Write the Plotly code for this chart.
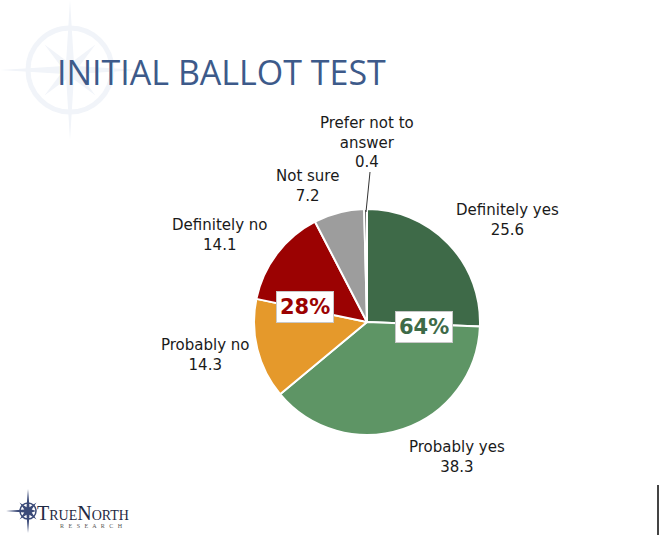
import math
import plotly.graph_objects as go

categories = ["Definitely yes", "Probably yes", "Probably no", "Definitely no", "Not sure", "Prefer not to answer"]
values = [25.6, 38.3, 14.3, 14.1, 7.2, 0.4]
colors = ["#3e6a48", "#5e9565", "#e5992b", "#9b0202", "#9d9d9d", "#3a3a3a"]
label_texts = ["Definitely yes<br>25.6", "Probably yes<br>38.3", "Probably no<br>14.3",
               "Definitely no<br>14.1", "Not sure<br>7.2", "Prefer not to<br>answer<br>0.4"]
group_labels = ["64%", "28%"]
group_colors = ["#3e6a48", "#9b0202"]

W, H = 660, 535
cx, cy, r = 367, 322, 113

fig = go.Figure(go.Pie(
    labels=categories, values=values, sort=False, direction="clockwise", rotation=0,
    marker=dict(colors=colors, line=dict(color="white", width=2)),
    textinfo="none", hoverinfo="label+value", showlegend=False,
    domain=dict(x=[(cx - r) / W, (cx + r) / W], y=[(H - cy - r) / H, (H - cy + r) / H]),
))

def px(x, y):
    return x / W, 1 - y / H

label_pos = [(507, 220), (457, 457), (205, 355), (220, 235), (307, 186), (367, 142)]
anns = []
for t, (x, y) in zip(label_texts, label_pos):
    ax_, ay_ = px(x, y)
    anns.append(dict(x=ax_, y=ay_, xref="paper", yref="paper", xanchor="center", yanchor="middle",
                     text=t, showarrow=False,
                     font=dict(family="DejaVu Sans", size=15, color="#1a1a1a"), align="center"))

box_pos = [(424, 327), (305, 307)]
for t, c, (x, y) in zip(group_labels, group_colors, box_pos):
    ax_, ay_ = px(x, y)
    anns.append(dict(x=ax_, y=ay_, xref="paper", yref="paper", xanchor="center", yanchor="middle",
                     text="<b>%s</b>" % t, showarrow=False,
                     font=dict(family="DejaVu Sans", size=21, color=c), bgcolor="white",
                     bordercolor="#c8c8c8", borderwidth=1, borderpad=3))

# title
anns.append(dict(x=55 / W, y=1 - 72 / H, xref="paper", yref="paper", xanchor="left", yanchor="middle",
                 text="INITIAL BALLOT TEST",
                 showarrow=False, font=dict(family="Open Sans", size=34, color="#3d5a8a")))
# logo text
anns.append(dict(x=35 / W, y=1 - 513 / H, xref="paper", yref="paper", xanchor="left", yanchor="middle",
                 text="T<span style='font-size:14px'>RUE</span>N<span style='font-size:14px'>ORTH</span>",
                 showarrow=False, font=dict(family="Liberation Serif", size=20, color="#1f2a44")))
anns.append(dict(x=58 / W, y=1 - 526 / H, xref="paper", yref="paper", xanchor="left", yanchor="middle",
                 text="R   E   S   E   A   R   C   H", showarrow=False,
                 font=dict(family="Liberation Serif", size=6, color="#555555")))

def star_path(x0, y0, long_, diag, w, right=None):
    pts = []
    for k in range(16):
        ang = math.pi / 2 - k * math.pi / 8
        if k % 4 == 0:
            rr = long_ if (right is None or k != 4) else right
        elif k % 4 == 2:
            rr = diag
        else:
            rr = w
        pts.append((x0 + rr * math.cos(ang), y0 - rr * math.sin(ang)))
    return "M " + " L ".join("%.1f,%.1f" % (p[0], p[1]) for p in pts) + " Z"

shapes = []
# faint compass watermark
shapes.append(dict(type="circle", xref="x", yref="y", x0=70 - 42, y0=70 - 42, x1=70 + 42, y1=70 + 42,
                   line=dict(color="#f1f4f9", width=5), layer="below"))
shapes.append(dict(type="path", xref="x", yref="y", path=star_path(70, 70, 70, 36, 10),
                   fillcolor="#f1f4f9", line=dict(width=0), layer="below"))
# logo star
shapes.append(dict(type="path", xref="x", yref="y", path=star_path(28, 511, 22, 12, 4, right=8),
                   fillcolor="#3b4a78", line=dict(width=0), layer="below"))
shapes.append(dict(type="circle", xref="x", yref="y", x0=28 - 8, y0=511 - 8, x1=28 + 8, y1=511 + 8,
                   line=dict(color="#3b4a78", width=1.5), layer="below"))
# leader line for Prefer not to answer
shapes.append(dict(type="line", xref="x", yref="y", x0=370, y0=172, x1=366, y1=212,
                   line=dict(color="#333333", width=1)))
# right-edge line
shapes.append(dict(type="line", xref="x", yref="y", x0=658, y0=485, x1=658, y1=535,
                   line=dict(color="#444444", width=2)))

fig.update_layout(
    width=W, height=H, margin=dict(l=0, r=0, t=0, b=0),
    paper_bgcolor="white", plot_bgcolor="rgba(0,0,0,0)",
    xaxis=dict(range=[0, W], visible=False, fixedrange=True, domain=[0, 1]),
    yaxis=dict(range=[H, 0], visible=False, fixedrange=True, domain=[0, 1]),
    annotations=anns, shapes=shapes,
)
fig.write_html("out.html")
